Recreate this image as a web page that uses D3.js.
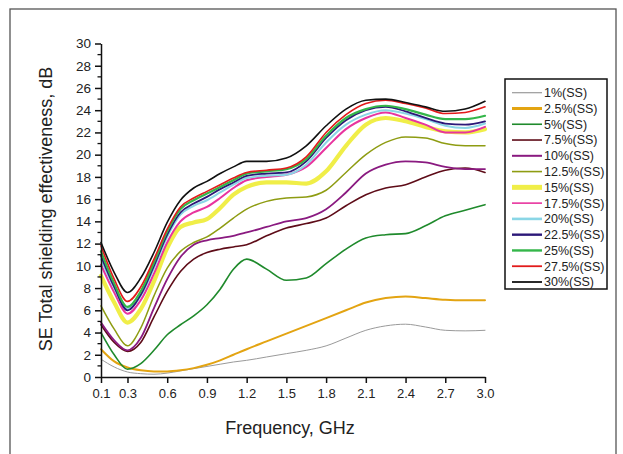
<!DOCTYPE html>
<html>
<head>
<meta charset="utf-8">
<script src="https://cdn.jsdelivr.net/npm/d3@7"></script>
<style>
  html, body { margin: 0; padding: 0; background: #fff; }
  svg { display: block; font-family: "Liberation Sans", Arial, sans-serif; }
</style>
</head>
<body>
<svg id="chart" width="623" height="454"></svg>
<script>
// Frequency sample points (GHz)
const freq = [0.1, 0.2, 0.3, 0.4, 0.5, 0.6, 0.7, 0.8, 0.9, 1.0, 1.1, 1.2, 1.35, 1.5, 1.65, 1.8, 1.95, 2.1, 2.25, 2.4, 2.55, 2.7, 2.85, 3.0];

// Total shielding effectiveness (dB) per SS loading
const se1   = [1.6, 0.9, 0.45, 0.3, 0.25, 0.35, 0.55, 0.75, 0.95, 1.15, 1.35, 1.5, 1.8, 2.1, 2.4, 2.8, 3.5, 4.2, 4.6, 4.75, 4.5, 4.2, 4.15, 4.2];
const se2_5 = [2.5, 1.4, 0.85, 0.6, 0.5, 0.5, 0.6, 0.8, 1.1, 1.5, 2.0, 2.5, 3.2, 3.9, 4.6, 5.3, 6.0, 6.7, 7.1, 7.25, 7.1, 6.95, 6.9, 6.9];
const se5   = [4.0, 2.0, 0.7, 1.2, 2.4, 3.8, 4.7, 5.5, 6.5, 7.9, 9.7, 10.6, 9.7, 8.7, 8.9, 10.2, 11.5, 12.5, 12.8, 12.9, 13.6, 14.5, 15.0, 15.5];
const se7_5 = [4.7, 3.1, 2.3, 3.1, 5.4, 7.7, 9.5, 10.6, 11.2, 11.5, 11.7, 11.9, 12.7, 13.4, 13.8, 14.3, 15.4, 16.4, 17.0, 17.3, 18.0, 18.6, 18.8, 18.4];
const se10  = [4.9, 3.3, 2.4, 3.5, 6.2, 8.8, 10.8, 11.9, 12.3, 12.5, 12.7, 13.0, 13.5, 14.0, 14.3, 15.1, 16.6, 18.3, 19.1, 19.4, 19.3, 18.9, 18.7, 18.7];
const se12_5= [6.4, 4.3, 2.8, 4.4, 7.3, 9.8, 11.3, 12.1, 12.6, 13.4, 14.3, 15.1, 15.8, 16.1, 16.2, 16.8, 18.4, 20.0, 21.1, 21.6, 21.5, 21.0, 20.8, 20.8];
const se15  = [9.1, 6.7, 4.9, 6.1, 8.6, 11.6, 13.5, 13.9, 14.2, 15.2, 16.4, 17.1, 17.5, 17.5, 17.4, 18.5, 20.8, 22.7, 23.3, 23.0, 22.5, 22.1, 22.0, 22.3];
const se17_5= [10.1, 7.6, 5.7, 6.9, 9.3, 12.1, 14.0, 14.8, 15.3, 16.1, 17.0, 17.7, 18.0, 18.2, 18.9, 20.6, 22.3, 23.3, 23.8, 23.3, 22.7, 22.0, 22.0, 22.5];
const se20  = [10.6, 8.0, 6.1, 7.3, 9.8, 12.6, 14.6, 15.4, 15.9, 16.6, 17.3, 17.9, 18.1, 18.2, 19.1, 21.1, 22.7, 23.6, 24.0, 23.7, 23.2, 22.6, 22.4, 22.8];
const se22_5= [10.9, 8.1, 6.0, 7.4, 10.0, 12.8, 14.8, 15.6, 16.2, 16.9, 17.5, 18.1, 18.3, 18.4, 19.4, 21.5, 23.1, 24.0, 24.3, 23.9, 23.3, 22.8, 22.7, 23.0];
const se25  = [11.3, 8.4, 6.3, 7.7, 10.3, 13.1, 15.1, 15.9, 16.5, 17.1, 17.7, 18.3, 18.5, 18.7, 19.6, 21.7, 23.3, 24.1, 24.4, 24.1, 23.6, 23.2, 23.2, 23.5];
const se27_5= [11.8, 8.8, 6.8, 8.1, 10.6, 13.3, 15.3, 16.1, 16.7, 17.3, 17.9, 18.4, 18.6, 18.8, 19.8, 22.0, 23.6, 24.6, 24.9, 24.6, 24.2, 23.7, 23.8, 24.3];
const se30  = [12.1, 9.4, 7.6, 8.9, 11.2, 13.9, 15.9, 17.0, 17.6, 18.3, 18.9, 19.4, 19.4, 19.7, 20.8, 22.6, 24.1, 24.9, 25.0, 24.7, 24.3, 23.9, 24.1, 24.8];

const seriesNames = ["1%(SS)", "2.5%(SS)", "5%(SS)", "7.5%(SS)", "10%(SS)", "12.5%(SS)", "15%(SS)",
                     "17.5%(SS)", "20%(SS)", "22.5%(SS)", "25%(SS)", "27.5%(SS)", "30%(SS)"];
const seriesValues = [se1, se2_5, se5, se7_5, se10, se12_5, se15, se17_5, se20, se22_5, se25, se27_5, se30];
const seriesColors = ["#9a9a9a", "#e3a412", "#1f8a2c", "#5e0c18", "#8a1a80", "#8e9c12", "#f0ee48",
                      "#e8349e", "#8ad6e6", "#2c1878", "#34b64a", "#e21a1a", "#111111"];
const seriesWidths = [1, 2, 1.6, 1.6, 1.8, 1.5, 4.2, 2, 2, 1.8, 2.2, 1.6, 1.6];

const xTicks = [0.1, 0.3, 0.6, 0.9, 1.2, 1.5, 1.8, 2.1, 2.4, 2.7, 3.0];
const yTicks = d3.range(0, 31, 2);
const yMinor = d3.range(1, 30, 2);

const svg = d3.select("#chart");
const fontStack = '"Liberation Sans", Arial, sans-serif';

// outer frame
svg.append("rect")
  .attr("x", 10).attr("y", 9).attr("width", 606).attr("height", 470)
  .attr("fill", "none").attr("stroke", "#555").attr("stroke-width", 1.3);

const x = d3.scaleLinear().domain([0.1, 3.0]).range([101, 485]);
const y = d3.scaleLinear().domain([0, 30]).range([377, 43.5]);

// series
const line = d3.line()
  .x((d, i) => x(freq[i]))
  .y(d => y(d))
  .curve(d3.curveMonotoneX);

const plot = svg.append("g");
seriesValues.forEach((vals, k) => {
  plot.append("path")
    .datum(vals)
    .attr("d", line)
    .attr("fill", "none")
    .attr("stroke", seriesColors[k])
    .attr("stroke-width", seriesWidths[k])
    .attr("stroke-linejoin", "round")
    .attr("stroke-linecap", "round");
});

// x axis
const xAxis = svg.append("g")
  .attr("transform", `translate(0,${y(0)})`)
  .call(d3.axisBottom(x).tickValues(xTicks).tickFormat(d3.format(".1f")).tickSizeInner(6).tickSizeOuter(0).tickPadding(6));
xAxis.select(".domain").attr("stroke", "#111").attr("stroke-width", 1.5);
xAxis.selectAll(".tick line").attr("stroke", "#111").attr("stroke-width", 1.5);
xAxis.selectAll(".tick text").attr("font-size", 13).attr("font-family", fontStack).attr("fill", "#222");

// y axis
const yAxis = svg.append("g")
  .attr("transform", `translate(${x(0.1)},0)`)
  .call(d3.axisLeft(y).tickValues(yTicks).tickSizeInner(6).tickSizeOuter(0).tickPadding(4));
yAxis.select(".domain").attr("stroke", "#111").attr("stroke-width", 1.5);
yAxis.selectAll(".tick line").attr("stroke", "#111").attr("stroke-width", 1.5);
yAxis.selectAll(".tick text").attr("font-size", 13.5).attr("font-family", fontStack).attr("fill", "#222");

svg.append("g")
  .selectAll("line")
  .data(yMinor)
  .join("line")
  .attr("x1", x(0.1) - 3.5).attr("x2", x(0.1))
  .attr("y1", d => y(d)).attr("y2", d => y(d))
  .attr("stroke", "#111").attr("stroke-width", 1.3);

// axis titles
svg.append("text")
  .attr("x", 290).attr("y", 434)
  .attr("text-anchor", "middle")
  .attr("font-size", 18).attr("font-family", fontStack).attr("fill", "#222")
  .text("Frequency, GHz");

svg.append("text")
  .attr("transform", "translate(52,209) rotate(-90)")
  .attr("text-anchor", "middle")
  .attr("font-size", 18).attr("font-family", fontStack).attr("fill", "#222")
  .text("SE Total shielding effectiveness, dB");

// legend
const legend = svg.append("g");
legend.append("rect")
  .attr("x", 505).attr("y", 79).attr("width", 102).attr("height", 210)
  .attr("fill", "#fff").attr("stroke", "#111").attr("stroke-width", 1.5);

const legendRow = d3.scaleLinear().domain([0, seriesNames.length - 1]).range([92.7, 282]);
const legendWidths = [1.2, 3, 1.6, 1.6, 2, 1.6, 5, 1.6, 2.6, 2.4, 2.4, 1.8, 1.8];
seriesNames.forEach((name, k) => {
  const cy = legendRow(k);
  legend.append("line")
    .attr("x1", 512).attr("x2", 542)
    .attr("y1", cy).attr("y2", cy)
    .attr("stroke", seriesColors[k])
    .attr("stroke-width", legendWidths[k]);
  legend.append("text")
    .attr("x", 544).attr("y", cy)
    .attr("dy", "0.35em")
    .attr("font-size", 12.5).attr("font-family", fontStack).attr("fill", "#222")
    .text(name);
});
</script>
</body>
</html>
